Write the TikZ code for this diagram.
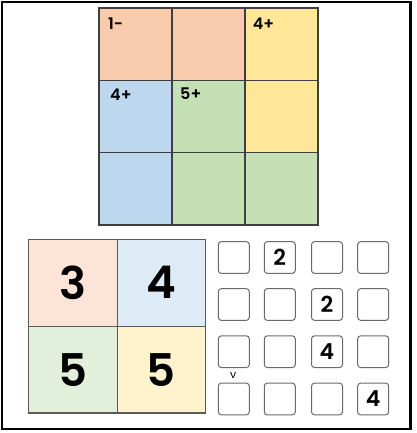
\documentclass[tikz,border=0pt]{standalone}
\usepackage{fontspec}
\setmainfont{Poppins}
\newfontfamily\medfont{Poppins SemiBold}
\definecolor{gline}{HTML}{3F3F3F}
\definecolor{bline}{HTML}{5A5A5A}
\definecolor{sline}{HTML}{6A6A6A}
\definecolor{cor}{HTML}{F8CBAD}
\definecolor{cye}{HTML}{FFE699}
\definecolor{cbl}{HTML}{BDD7EE}
\definecolor{cgr}{HTML}{C5E0B4}
\definecolor{lor}{HTML}{FCE4D6}
\definecolor{lbl}{HTML}{DDEBF7}
\definecolor{lgr}{HTML}{E2EFDA}
\definecolor{lye}{HTML}{FFF2CC}
\tikzset{
  topcell/.style={draw=gline, line width=1.4pt, minimum width=73pt, minimum height=72.33pt, inner sep=0pt, outer sep=0pt},
  cagelabel/.style={anchor=base west, inner sep=0pt, font=\medfont\fontsize{16}{16}\selectfont},
  bigcell/.style={draw=bline, line width=1.2pt, minimum width=88.5pt, minimum height=86.85pt, inner sep=0pt, outer sep=0pt, font=\medfont\fontsize{45}{45}\selectfont},
  smallbox/.style={draw=sline, line width=1pt, rounded corners=3pt, minimum width=31pt, minimum height=31.7pt, inner sep=0pt, outer sep=0pt, font=\medfont\fontsize{22}{22}\selectfont},
  frame/.style={draw=black, line width=2.3pt}
}
\begin{document}
\begin{tikzpicture}[x=1pt,y=-1pt]
\useasboundingbox (0,0) rectangle (416,433);
\draw[frame] (1.8,1.8) rectangle (410.5,428.8);
% top 3x3 grid
\node[topcell, fill=cor] (t11) at (135.5,44.17) {};
\node[topcell, fill=cor] (t12) at (208.5,44.17) {};
\node[topcell, fill=cye] (t13) at (281.5,44.17) {};
\node[topcell, fill=cbl] (t21) at (135.5,116.5) {};
\node[topcell, fill=cgr] (t22) at (208.5,116.5) {};
\node[topcell, fill=cye] (t23) at (281.5,116.5) {};
\node[topcell, fill=cbl] (t31) at (135.5,188.83) {};
\node[topcell, fill=cgr] (t32) at (208.5,188.83) {};
\node[topcell, fill=cgr] (t33) at (281.5,188.83) {};
\node[cagelabel] (l1) at (108,30) {1-};
\node[cagelabel] (l2) at (252.7,29.8) {4+};
\node[cagelabel] (l3) at (110,101) {4+};
\node[cagelabel] (l4) at (180,99.3) {5+};
% bottom-left 2x2 grid
\node[bigcell, fill=lor] (b11) at (72.95,282.73) {3};
\node[bigcell, fill=lbl] (b12) at (161.45,282.73) {4};
\node[bigcell, fill=lgr] (b21) at (72.95,369.58) {5};
\node[bigcell, fill=lye] (b22) at (161.45,369.58) {5};
% 4x4 small boxes
\node[smallbox] (s11) at (233.8,257.5) {};
\node[smallbox] (s12) at (279.8,257.5) {2};
\node[smallbox] (s13) at (327,257.5) {};
\node[smallbox] (s14) at (373.2,257.5) {};
\node[smallbox] (s21) at (233.8,304.5) {};
\node[smallbox] (s22) at (279.8,304.5) {};
\node[smallbox] (s23) at (327,304.5) {2};
\node[smallbox] (s24) at (373.2,304.5) {};
\node[smallbox] (s31) at (233.8,351.7) {};
\node[smallbox] (s32) at (279.8,351.7) {};
\node[smallbox] (s33) at (327,351.7) {4};
\node[smallbox] (s34) at (373.2,351.7) {};
\node[smallbox] (s41) at (233.8,399) {};
\node[smallbox] (s42) at (279.8,399) {};
\node[smallbox] (s43) at (327,399) {};
\node[smallbox] (s44) at (373.2,399) {4};
\node[inner sep=0pt, font=\fontsize{11}{11}\selectfont] (v) at (233.3,375.5) {v};
\end{tikzpicture}
\end{document}
